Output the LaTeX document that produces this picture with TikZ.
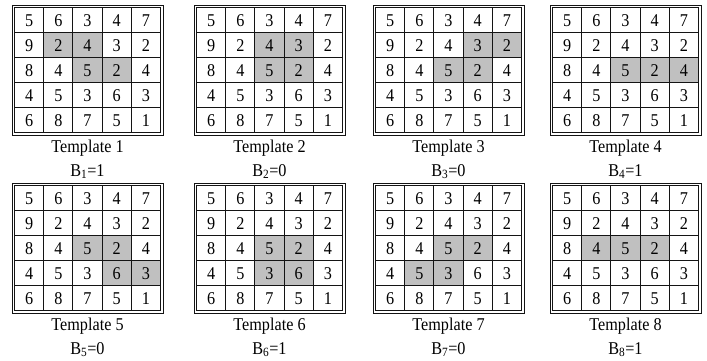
\documentclass[tikz,border=0pt]{standalone}
\usepackage{graphicx}
\usepackage{fontspec}
\setmainfont{Liberation Serif}
\definecolor{hlgray}{RGB}{192,192,192}
\definecolor{linecol}{RGB}{20,20,20}
\tikzset{
  cellnum/.style={inner sep=0pt, font=\fontsize{18}{18}\selectfont},
  captext/.style={inner sep=0pt, anchor=base, font=\fontsize{18}{18}\selectfont},
  borderline/.style={draw=linecol, line width=1pt},
  cellline/.style={draw=linecol, line width=0.9pt},
}
\newcommand\tplgrid[5]{%
  \begin{scope}[shift={(#1,#2)}]
    \foreach \r/\c in {#3}
      \fill[hlgray] (2.5+\c*29.2, 2.5+\r*25) rectangle ++(29.2,25);
    \foreach \i in {1,...,4} {
      \draw[cellline] (2.5+\i*29.2,2.5) -- ++(0,125);
      \draw[cellline] (2.5,2.5+\i*25) -- ++(146,0);
    }
    \draw[borderline] (0,0) rectangle (151,130);
    \draw[borderline] (2.5,2.5) rectangle (148.5,127.5);
    \foreach \row [count=\rr from 0] in {{5,6,3,4,7},{9,2,4,3,2},{8,4,5,2,4},{4,5,3,6,3},{6,8,7,5,1}}
      \foreach \v [count=\cc from 0] in \row
        \node[cellnum] (g#4-\rr-\cc) at (2.5+\cc*29.2+14.6, 2.5+\rr*25+12.8) {\scalebox{0.9}[1]{\v}};
    \node[captext] (t#4) at (75.5,147) {\scalebox{0.9}[1]{Template #4}};
    \node[captext] (b#4) at (75.5,171) {\scalebox{0.9}[1]{B\textsubscript{#4}=#5}};
  \end{scope}}
\begin{document}
\begin{tikzpicture}[x=1pt,y=-1pt]
  \fill[white] (0,0) rectangle (707,360);
  \useasboundingbox (0,0) rectangle (707,360);
  \tplgrid{12}{5}{1/1,1/2,2/2,2/3}{1}{1}
  \tplgrid{194}{5}{1/2,1/3,2/2,2/3}{2}{0}
  \tplgrid{373}{5}{1/3,1/4,2/2,2/3}{3}{0}
  \tplgrid{550}{5}{2/2,2/3,2/4}{4}{1}
  \tplgrid{12}{183}{2/2,2/3,3/3,3/4}{5}{0}
  \tplgrid{194}{183}{2/2,2/3,3/2,3/3}{6}{1}
  \tplgrid{373}{183}{2/2,2/3,3/1,3/2}{7}{0}
  \tplgrid{550}{183}{2/1,2/2,2/3}{8}{1}
\end{tikzpicture}
\end{document}
